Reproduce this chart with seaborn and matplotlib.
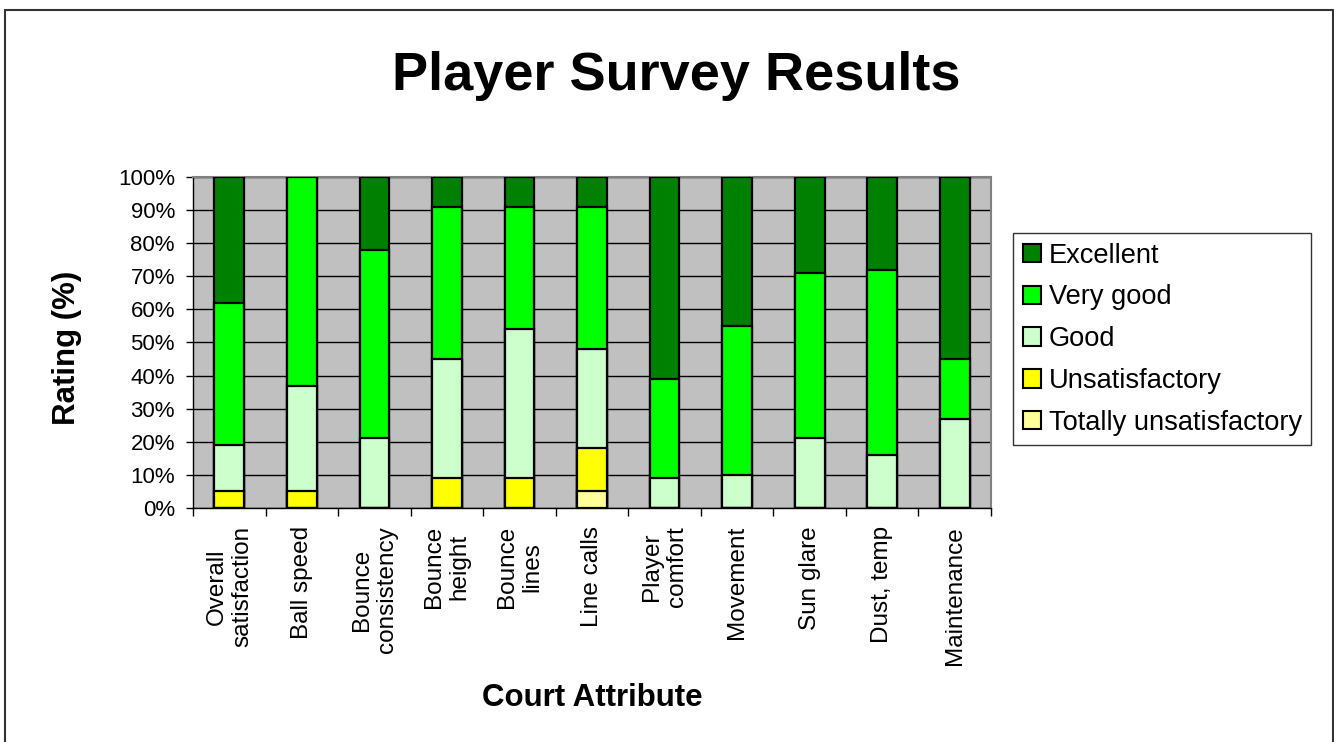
import numpy as np
import pandas as pd
import matplotlib
matplotlib.use("Agg")
import matplotlib.pyplot as plt
from matplotlib.patches import Patch, Rectangle
import seaborn as sns

sns.set_style("white")
plt.rcParams["font.family"] = ["Liberation Sans", "DejaVu Sans"]
plt.rcParams["text.color"] = "black"
plt.rcParams["xtick.color"] = "black"
plt.rcParams["ytick.color"] = "black"

# ------------------------------
# Survey data (percent of responses)
# ------------------------------
attributes = ["Overall\nsatisfaction", "Ball speed", "Bounce\nconsistency", "Bounce\nheight",
              "Bounce\nlines", "Line calls", "Player\ncomfort", "Movement", "Sun glare",
              "Dust, temp", "Maintenance"]
totally_unsat = [0, 0, 0, 0, 0, 5, 0, 0, 0, 0, 0]
unsatisfactory = [5, 5, 0, 9, 9, 13, 0, 0, 0, 0, 0]
good = [14, 32, 21, 36, 45, 30, 9, 10, 21, 16, 27]
very_good = [43, 63, 57, 46, 37, 43, 30, 45, 50, 56, 18]
excellent = [38, 0, 22, 9, 9, 9, 61, 45, 29, 28, 55]

ratings = ["Totally unsatisfactory", "Unsatisfactory", "Good", "Very good", "Excellent"]
colors = {"Totally unsatisfactory": "#FFFF99", "Unsatisfactory": "#FFFF00",
          "Good": "#CCFFCC", "Very good": "#00FF00", "Excellent": "#008000"}

df = pd.DataFrame({"attribute": attributes, "Totally unsatisfactory": totally_unsat,
                   "Unsatisfactory": unsatisfactory, "Good": good,
                   "Very good": very_good, "Excellent": excellent})
cum = df[ratings].cumsum(axis=1)

# ------------------------------
# Figure
# ------------------------------
fig = plt.figure(figsize=(13.34, 7.42), dpi=100)
fig.patches.append(Rectangle((0.004, -0.01), 0.9955, 0.9965, transform=fig.transFigure,
                             fill=False, edgecolor="#333333", linewidth=1.5))
ax = fig.add_axes([0.1447, 0.3154, 0.5982, 0.4461])
ax.set_facecolor("#C0C0C0")

# stacked bars: draw cumulative totals from the top layer down
for r in reversed(ratings):
    sns.barplot(x=df["attribute"], y=cum[r], color=colors[r], width=0.41,
                edgecolor="black", linewidth=1.6, saturation=1, ax=ax, zorder=3)

ax.set_ylim(0, 100)
ax.set_xlim(-0.5, len(attributes) - 0.5)
ax.set_yticks(np.arange(0, 101, 10))
ax.set_yticklabels([f"{v}%" for v in range(0, 101, 10)], fontsize=16)
ax.yaxis.grid(True, color="black", linewidth=1)
ax.set_axisbelow(True)
ax.tick_params(axis="y", direction="out", length=5, width=1, color="black", pad=8, left=True)

ax.set_xticks(range(len(attributes)))
ax.set_xticklabels(attributes, rotation=90, fontsize=17.5, ha="center", va="top",
                   multialignment="center")
ax.tick_params(axis="x", length=0, pad=13)
ax.set_xticks(np.arange(-0.5, len(attributes), 1), minor=True)
ax.tick_params(axis="x", which="minor", direction="out", length=6, width=1,
               color="black", bottom=True)
ax.set_xlabel("")
ax.set_ylabel("")

for side in ["left", "bottom"]:
    ax.spines[side].set_color("black")
    ax.spines[side].set_linewidth(1)
for side in ["top", "right"]:
    ax.spines[side].set_color("#808080")
    ax.spines[side].set_linewidth(1.5)

fig.text(0.507, 0.898, "Player Survey Results", fontsize=39, fontweight="bold",
         ha="center", va="center")
fig.text(0.4438, 0.0593, "Court Attribute", fontsize=22.5, fontweight="bold",
         ha="center", va="center")
fig.text(0.05, 0.531, "Rating (%)", fontsize=22.5, fontweight="bold",
         ha="center", va="center", rotation=90)

handles = [Patch(facecolor=colors[r], edgecolor="black", linewidth=1.5, label=r)
           for r in reversed(ratings)]
leg = fig.legend(handles=handles, loc="upper left", bbox_to_anchor=(0.7594, 0.686),
                 fontsize=19.6, frameon=True, fancybox=False, edgecolor="black",
                 handlelength=0.66, handleheight=0.66, handletextpad=0.3,
                 labelspacing=0.58, borderpad=0.35, borderaxespad=0)
leg.get_frame().set_linewidth(1)

fig.savefig("out.png", dpi=100)
